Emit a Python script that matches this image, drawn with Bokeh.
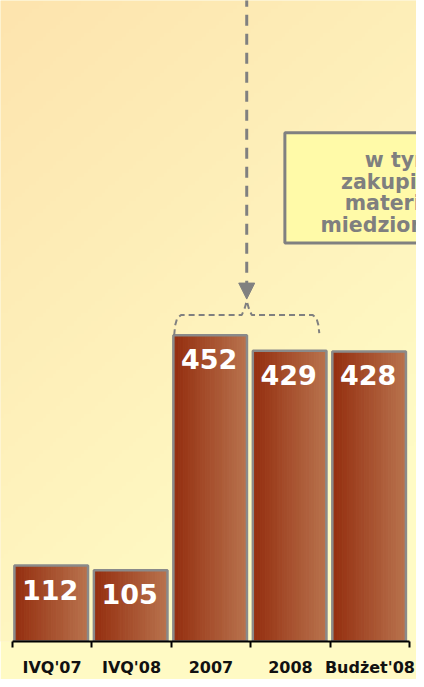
import numpy as np
from bokeh.plotting import figure
from bokeh.models import Range1d, FixedTicker, Arrow, NormalHead, BoxAnnotation
from bokeh.embed import file_html
from bokeh.resources import INLINE
from bokeh.core.properties import value

# ---- data ----
categories = ["IVQ'07", "IVQ'08", "2007", "2008", "Budżet'08"]
values = [112, 105, 452, 429, 428]
note_lines = ["w tym", "zakupione", "materiały", "miedzionośne"]

# ---- layout constants ----
W, H = 416, 679
X0, X1 = -0.148, 5.086
Y0, Y1 = 0, 946
FONT = value("DejaVu Sans")
GRAY = "#808080"

p = figure(width=W, height=H, x_range=Range1d(X0, X1), y_range=Range1d(Y0, Y1),
           output_backend="svg", toolbar_location=None,
           y_axis_location=None, x_axis_location="below",
           min_border_left=0, min_border_right=0, min_border_top=0, min_border_bottom=0)
p.outline_line_color = None
p.xgrid.visible = False
p.ygrid.visible = False
p.border_fill_color = "#fffac4"
p.background_fill_color = "#fef0ba"

# background gradient (decoration)
ny, nx = 160, 120
yy, xx = np.mgrid[0:ny, 0:nx]
u = xx / (nx - 1)
v = 1 - yy / (ny - 1)  # image row 0 is bottom
t = np.clip(0.45 * u + 0.8 * v, 0, 1)
c0 = np.array([0xfd, 0xe4, 0xae])
c1 = np.array([0xff, 0xfb, 0xc5])
rgb = (c0[None, None, :] * (1 - t[..., None]) + c1[None, None, :] * t[..., None]).astype(np.uint32)
img = (255 << 24) | (rgb[..., 2] << 16) | (rgb[..., 1] << 8) | rgb[..., 0]
p.image_rgba(image=[img.astype(np.uint32)], x=X0, y=Y0, dw=X1 - X0, dh=Y1 - Y0, level="image")

# ---- bars with horizontal gradient ----
xs = [i + 0.49 for i in range(len(categories))]
bw = 0.926
N = 30
cl = np.array([0x95, 0x2f, 0x10])
cr = np.array([0xb8, 0x72, 0x4d])
L, R, T, C = [], [], [], []
for xc, val in zip(xs, values):
    for k in range(N):
        f = k / (N - 1)
        c = (cl * (1 - f) + cr * f).astype(int)
        L.append(xc - bw / 2 + k * bw / N)
        R.append(xc - bw / 2 + (k + 1) * bw / N)
        T.append(val)
        C.append("#%02x%02x%02x" % tuple(c))
p.quad(left=L, right=R, bottom=0, top=T, fill_color=C, line_color=C, line_width=1)
p.vbar(x=xs, width=bw, top=values, bottom=0, fill_alpha=0,
       line_color="#8a8a8a", line_width=2.5)

p.text(x=xs, y=values, text=[str(v_) for v_ in values], text_font=FONT,
       text_font_style="bold", text_font_size="27px", text_color="white",
       text_align="center", text_baseline="top", y_offset=14, x_offset=-1)

# ---- axis ----
ax = p.xaxis[0]
ax.ticker = FixedTicker(ticks=[i + 0.5 for i in range(len(categories))],
                        minor_ticks=list(range(len(categories) + 1)))
ax.major_label_overrides = {i + 0.5: c for i, c in enumerate(categories)}
ax.bounds = (0, len(categories))
ax.axis_line_color = "black"
ax.axis_line_width = 2
ax.major_tick_out = 0
ax.major_tick_in = 0
ax.minor_tick_out = 6
ax.minor_tick_in = 0
ax.minor_tick_line_color = "black"
ax.minor_tick_line_width = 2
ax.major_label_standoff = 10
ax.major_label_text_font = "DejaVu Sans"
ax.major_label_text_font_style = "bold"
ax.major_label_text_font_size = "16px"
ax.major_label_text_color = "#111111"

# ---- brace over 2007 and 2008 ----
bl = xs[2] - bw / 2 + 0.01
br = xs[3] + bw / 2 - 0.09
ym = values[2] + 30
mid = (bl + br) / 2
dx = 1 / 81.0
dy = 1 / 0.6858
bx = [bl, bl + 1 * dx, bl + 3 * dx, bl + 7 * dx, bl + 13 * dx,
      mid - 5 * dx, mid - 2 * dx, mid, mid + 2 * dx, mid + 5 * dx,
      br - 13 * dx, br - 7 * dx, br - 3 * dx, br - 1 * dx, br]
by = [values[2], values[2] + 10 * dy, values[2] + 17 * dy, ym, ym,
      ym, ym + 7 * dy, ym + 14 * dy, ym + 7 * dy, ym,
      ym, ym, ym - 3 * dy, ym - 10 * dy, values[3] + 18 * dy]
p.line(bx, by, line_color=GRAY, line_width=2, line_dash="6 4")

# ---- dashed arrow ----
p.add_layout(Arrow(x_start=mid, y_start=981, x_end=mid, y_end=ym + 16 * dy,
                   line_color=GRAY, line_width=3, line_dash="11 8",
                   end=NormalHead(size=16, fill_color=GRAY, line_color=GRAY, line_width=1)))

# ---- note box ----
p.add_layout(BoxAnnotation(left=3.43, right=6.5, top=751, bottom=588,
                           fill_color="#fffaa8", fill_alpha=1,
                           line_color=GRAY, line_width=3, line_alpha=1, level="underlay"))
ny_top = 710
p.text(x=[4.88] * len(note_lines), y=[ny_top - i * 31.6 for i in range(len(note_lines))],
       text=note_lines, text_font=FONT, text_font_style="bold", text_font_size="20.5px",
       text_color="#7f7f7f", text_align="center", text_baseline="alphabetic")

open("out.html", "w").write(file_html(p, INLINE))
